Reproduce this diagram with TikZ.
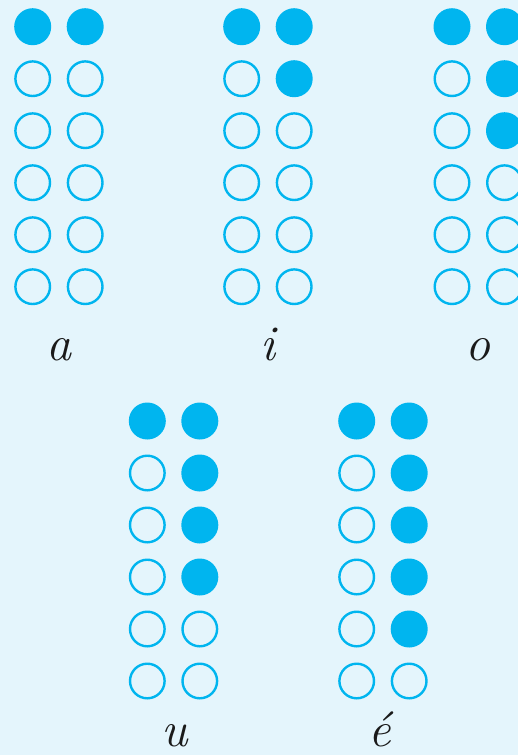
\documentclass[tikz,border=0pt]{standalone}
\definecolor{bg}{HTML}{E4F5FC}
\definecolor{dot}{HTML}{00B5EF}
\definecolor{ink}{HTML}{1A1A1A}
\begin{document}
\begin{tikzpicture}[x=1pt,y=1pt,
  full/.style={circle,fill=dot,minimum size=37pt,inner sep=0pt},
  empty/.style={circle,draw=dot,line width=2.4pt,fill=none,minimum size=34.6pt,inner sep=0pt},
  lbl/.style={text=ink,font=\fontsize{50}{50}\selectfont\itshape,anchor=base,inner sep=0pt,text depth=0pt}]
\fill[bg] (0,0) rectangle (518,-755);
\useasboundingbox (0,0) rectangle (518,-755);
% cell(name, xleft, ytop, number of filled right dots below top row)
\foreach \nm/\xl/\yt/\k in {a/32.7/26.7/0, i/241.7/26.7/1, o/452/26.7/2, u/147.3/421/3, e/356.7/421/4}{
  \foreach \r in {1,...,6}{
    \pgfmathsetmacro{\yy}{-(\yt+(\r-1)*52)}
    \pgfmathsetmacro{\xr}{\xl+52.5}
    \ifnum\r=1
      \node[full] (\nm L\r) at (\xl,\yy) {};
      \node[full] (\nm R\r) at (\xr,\yy) {};
    \else
      \node[empty] (\nm L\r) at (\xl,\yy) {};
      \pgfmathtruncatemacro{\lim}{\k+1}
      \ifnum\r>\lim
        \node[empty] (\nm R\r) at (\xr,\yy) {};
      \else
        \node[full] (\nm R\r) at (\xr,\yy) {};
      \fi
    \fi
  }
}
\node[lbl] (la) at (59,-360) {a};
\node[lbl] (li) at (268,-360) {i};
\node[lbl] (lo) at (478,-360) {o};
\node[lbl] (lu) at (175,-746) {u};
\node[lbl] (le) at (380,-746) {é};
\end{tikzpicture}
\end{document}
